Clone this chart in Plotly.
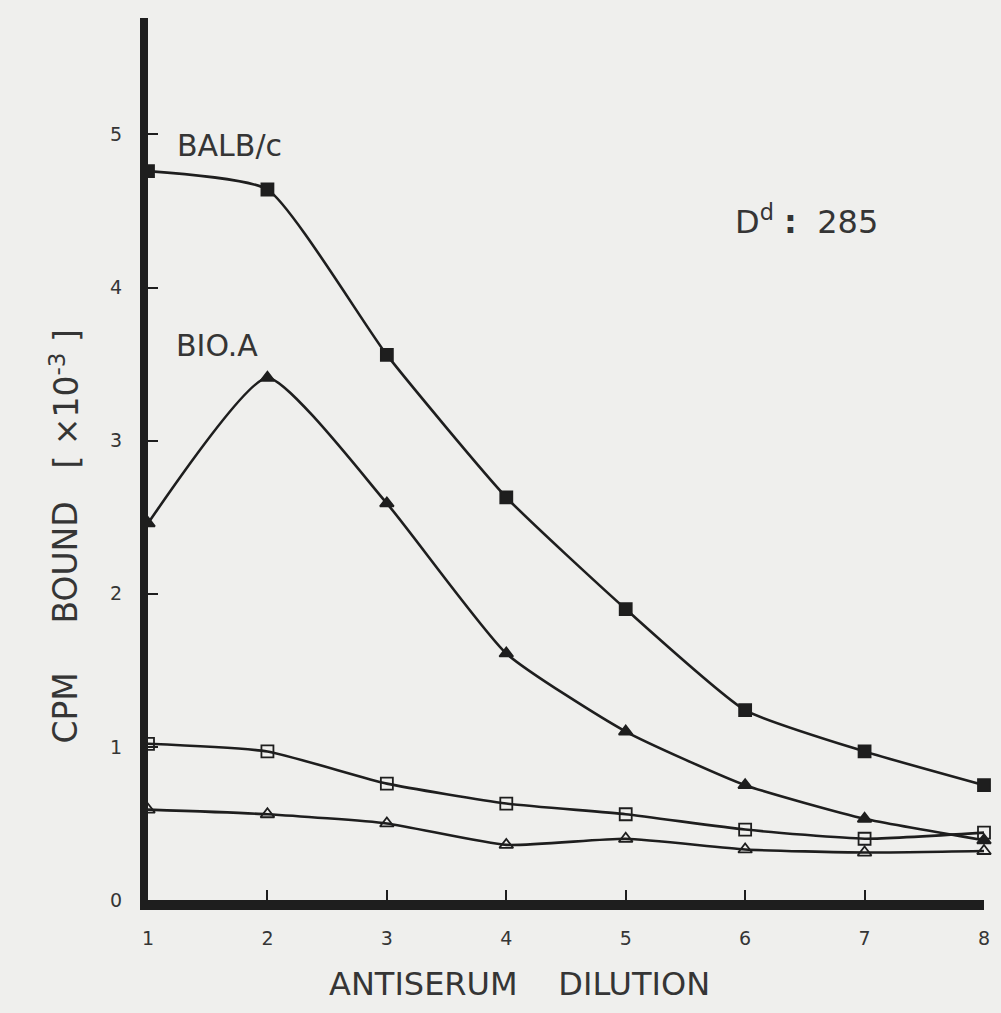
import plotly.graph_objects as go

# Antiserum dilution steps
dilution = [1, 2, 3, 4, 5, 6, 7, 8]

# CPM bound (x10^-3) for each target cell / antiserum combination
balbc = [4.76, 4.64, 3.56, 2.63, 1.90, 1.24, 0.97, 0.75]
bio_a = [2.46, 3.41, 2.59, 1.61, 1.10, 0.75, 0.53, 0.39]
ctrl_square = [1.02, 0.97, 0.76, 0.63, 0.56, 0.46, 0.40, 0.44]
ctrl_triangle = [0.59, 0.56, 0.50, 0.36, 0.40, 0.33, 0.31, 0.32]

y_ticks = [0, 1, 2, 3, 4, 5]
x_ticks = [1, 2, 3, 4, 5, 6, 7, 8]

INK = "#1e1e1e"
TXT = "#353535"
BG = "#efefed"
FONT = "DejaVu Sans"

fig = go.Figure()

series = [
    (balbc, "square", "BALB/c", 12),
    (bio_a, "triangle-up", "BIO.A", 12),
    (ctrl_square, "square-open", "control (square)", 12),
    (ctrl_triangle, "triangle-up-open", "control (triangle)", 12),
]
for vals, sym, name, size in series:
    fig.add_trace(go.Scatter(
        x=dilution, y=vals, name=name,
        mode="lines+markers",
        line=dict(color=INK, width=2.6, shape="spline", smoothing=0.5),
        marker=dict(symbol=sym, size=size, color=INK,
                    line=dict(color=INK, width=1.8)),
        cliponaxis=False,
    ))

fig.update_layout(
    width=1001, height=1013,
    margin=dict(l=148, r=11, t=18, b=113),
    paper_bgcolor=BG, plot_bgcolor=BG,
    showlegend=False,
    font=dict(family=FONT, color=TXT, size=19),
    xaxis=dict(
        range=[1, 8], tickvals=x_ticks, ticks="inside", ticklen=10,
        tickwidth=2, tickcolor=INK, showgrid=False, zeroline=False,
        showline=True, linewidth=10, linecolor=INK,
        tickfont=dict(size=19, color=TXT, family=FONT), ticklabelstandoff=12,
    ),
    yaxis=dict(
        range=[0, 5.76], tickvals=y_ticks, ticks="inside", ticklen=10,
        tickwidth=2, tickcolor=INK, showgrid=False, zeroline=False,
        showline=True, linewidth=8, linecolor=INK,
        tickfont=dict(size=19, color=TXT, family=FONT), ticklabelstandoff=14,
    ),
)

# Axis titles
fig.add_annotation(text="ANTISERUM&nbsp;&nbsp;&nbsp;&nbsp;DILUTION",
                   xref="paper", yref="paper", x=(522 - 148) / 842, y=-0.071,
                   xanchor="center", yanchor="top", showarrow=False,
                   font=dict(size=32, color=TXT, family=FONT))
y_title_x = (64 - 148) / 842
for txt, ypix in [("CPM", 708), ("BOUND", 563), ("[ ×10<sup>-3</sup> ]", 399)]:
    fig.add_annotation(text=txt, xref="paper", yref="paper",
                       x=y_title_x, y=(900 - ypix) / 882,
                       xanchor="center", yanchor="middle",
                       textangle=-90, showarrow=False,
                       font=dict(size=33, color=TXT, family=FONT))

# Curve labels and panel label
fig.add_annotation(text="BALB/c", x=1.23, y=4.93, xanchor="left",
                   showarrow=False, font=dict(size=30, color=TXT, family=FONT))
fig.add_annotation(text="BIO.A", x=1.22, y=3.62, xanchor="left",
                   showarrow=False, font=dict(size=30, color=TXT, family=FONT))
fig.add_annotation(text="D<sup>d</sup>&nbsp;<b>:</b>&nbsp;&nbsp;285", x=5.9, y=4.44,
                   xanchor="left", showarrow=False,
                   font=dict(size=32, color=TXT, family=FONT))

fig.write_html("out.html")
